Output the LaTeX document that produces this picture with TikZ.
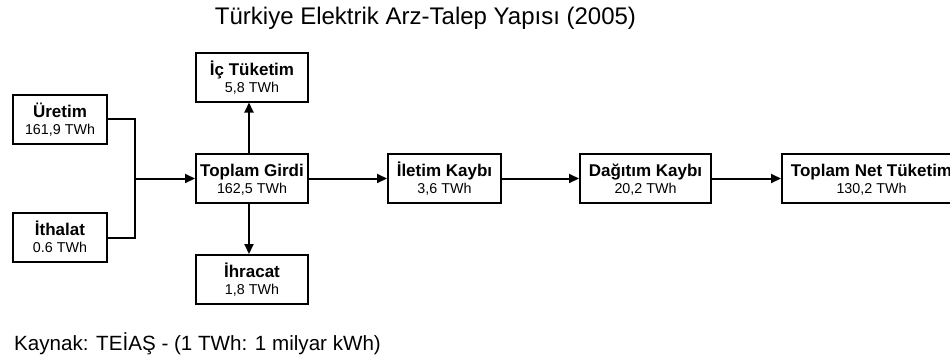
\documentclass[tikz,border=0pt]{standalone}
\usepackage{fontspec}
\setmainfont{Liberation Sans}
\usetikzlibrary{arrows.meta}
\tikzset{
  ebox/.style={draw=black, line width=2pt, fill=white, minimum height=49pt, inner sep=0pt},
  etitle/.style={inner sep=0pt, font=\fontsize{17}{19}\selectfont\bfseries},
  evalue/.style={inner sep=0pt, font=\fontsize{14.3}{16}\selectfont},
  conn/.style={line width=2pt, line join=miter},
  arr/.style={conn, -{Triangle[length=10pt,width=9pt]}},
}
\newcommand\ebox[6]{%
  \node[ebox, minimum width=#4pt] (#1) at (#2pt,#3pt) {};
  \node[etitle, anchor=base] (#1-t) at ([yshift=2pt]#1.center) {#5};
  \node[evalue, anchor=base] (#1-v) at ([yshift=-15pt]#1.center) {#6};
}
\begin{document}
\begin{tikzpicture}[x=1pt,y=1pt]
\useasboundingbox (0,0) rectangle (950,360);
\clip (0,0) rectangle (950,360);
\fill[white] (0,0) rectangle (950,360);
\node[anchor=base, inner sep=0pt, font=\fontsize{24}{28}\selectfont] (title) at (425.5,336) {Türkiye Elektrik Arz-Talep Yapısı (2005)};
\ebox{ure}{60}{241}{94}{Üretim}{161,9 TWh}
\ebox{ith}{60}{122.5}{94}{İthalat}{0.6 TWh}
\ebox{ic}{252}{283}{112}{İç Tüketim}{5,8 TWh}
\ebox{gir}{252}{181.5}{112}{Toplam Girdi}{162,5 TWh}
\ebox{ihr}{252}{80.5}{112}{İhracat}{1,8 TWh}
\ebox{ilt}{444.5}{181.5}{113}{İletim Kaybı}{3,6 TWh}
\ebox{dag}{645.5}{181.5}{131}{Dağıtım Kaybı}{20,2 TWh}
\ebox{net}{871.5}{181.5}{179}{Toplam Net Tüketim}{130,2 TWh}
\coordinate (j) at (135,181.5);
\draw[conn] (ure.east) -| (j) |- (ith.east);
\draw[arr] (j) -- (gir.west);
\draw[arr] ([xshift=-3pt]gir.north) -- ([xshift=-3pt]ic.south);
\draw[arr] ([xshift=-3pt]gir.south) -- ([xshift=-3pt]ihr.north);
\draw[arr] (gir.east) -- (ilt.west);
\draw[arr] (ilt.east) -- (dag.west);
\draw[arr] (dag.east) -- (net.west);
\node[anchor=base west, inner sep=0pt, font=\fontsize{20.6}{24}\selectfont] (src) at (14,10) {Kaynak: TEİAŞ - (1 TWh: 1 milyar kWh)};
\end{tikzpicture}
\end{document}
